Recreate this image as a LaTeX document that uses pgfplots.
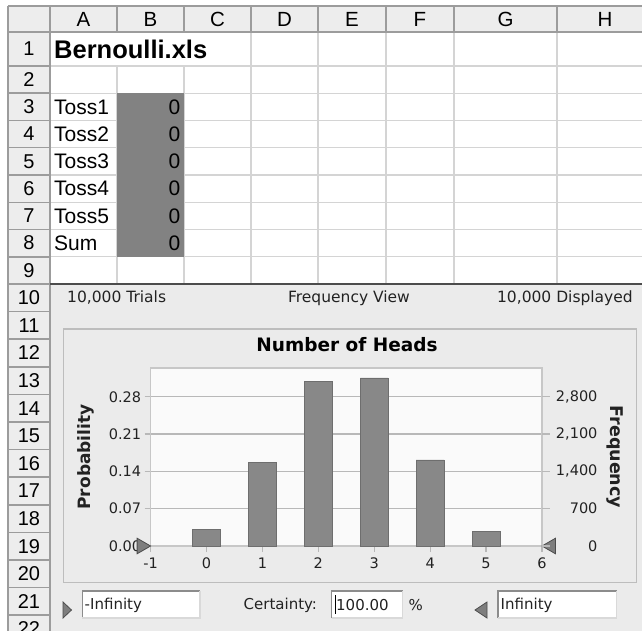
\documentclass[border=0pt]{standalone}
\usepackage{pgfplots}
\pgfplotsset{compat=1.18}
\usepackage{pgfplotstable}
\usepackage{fontspec}
\setmainfont{Liberation Sans}
\newfontfamily\dv{DejaVu Sans}
\definecolor{hdrbg}{HTML}{EDEDED}
\definecolor{hdrline}{HTML}{9C9C9C}
\definecolor{cellline}{HTML}{D4D4D4}
\definecolor{cellgray}{HTML}{828282}
\definecolor{chartbg}{HTML}{EBEBEB}
\definecolor{panelline}{HTML}{BDBDBD}
\definecolor{plotbg}{HTML}{FAFAFA}
\definecolor{gridc}{HTML}{B8B8B8}
\definecolor{barfill}{HTML}{888888}
\definecolor{baredge}{HTML}{6E6E6E}
\definecolor{triang}{HTML}{7E7E7E}
\definecolor{txt}{HTML}{222222}

\pgfplotstableread{
x freq prob
0 315 0.0315
1 1563 0.1563
2 3088 0.3088
3 3153 0.3153
4 1615 0.1615
5 266 0.0266
}\heads

\newcommand{\fs}[1]{\fontsize{#1}{#1}\selectfont}

\begin{document}
\begin{tikzpicture}
\begin{scope}[x=1pt,y=-1pt]
\path[use as bounding box, fill=white] (0,0) rectangle (642,631);
% header backgrounds
\fill[hdrbg] (8,6) rectangle (642,32);
\fill[hdrbg] (8,32) rectangle (50,631);
% cell gridlines rows 1-9
\foreach \y in {66,93.25,120.5,147.75,175,202.25,229.5,256.75}
  \draw[cellline, line width=1.2pt] (50,\y) -- (642,\y);
\foreach \x in {117,184}
  \draw[cellline, line width=1.2pt] (\x,66) -- (\x,284);
\foreach \x in {251,318,386,454,557}
  \draw[cellline, line width=1.2pt] (\x,32) -- (\x,284);
% gray cells B3:B8
\fill[cellgray] (117,93.25) rectangle (184,256.75);
% column header separators
\foreach \x in {50,117,184,251,318,386,454,557}
  \draw[hdrline, line width=1.2pt] (\x,6) -- (\x,32);
\draw[hdrline, line width=1.2pt] (8,6) -- (642,6);
\draw[hdrline, line width=1.5pt] (8,32) -- (642,32);
\draw[hdrline, line width=1.2pt] (8,6) -- (8,631);
\draw[hdrline, line width=1.5pt] (50,6) -- (50,631);
% row header separators
\foreach \y in {66,93.25,120.5,147.75,175,202.25,229.5,256.75,284,311.6,339.2,366.8,394.4,422,449.6,477.2,504.8,532.4,560,587.6,615.2}
  \draw[hdrline, line width=1.5pt] (8,\y) -- (50,\y);
% chart area
\fill[chartbg] (50.8,285) rectangle (642,631);
\draw[black!70, line width=2pt] (50,284) -- (642,284);
\draw[panelline, line width=1.5pt, fill=chartbg] (63.5,329) rectangle (636.5,582.5);
% column letters
\foreach \x/\l in {83.5/A,150.5/B,217.5/C,284.5/D,352/E,420/F,505.5/G,605/H}
  \node[font=\fs{20.5}, inner sep=0] at (\x,19.5) {\l};
% row numbers
\foreach \y/\l in {49/1,79.6/2,106.9/3,134.1/4,161.4/5,188.6/6,215.9/7,243.1/8,270.4/9,297.8/10,325.4/11,353/12,380.6/13,408.2/14,435.8/15,463.4/16,491/17,518.6/18,546.2/19,573.8/20,601.4/21,629/22}
  \node[font=\fs{20}, inner sep=0] at (29,\y) {\l};
% cell texts
\node[font=\bfseries\fs{25.5}, anchor=west, inner sep=0] at (54,49) {Bernoulli.xls};
\foreach \y/\l in {106.9/Toss1,134.1/Toss2,161.4/Toss3,188.6/Toss4,215.9/Toss5,243.1/Sum}
  \node[font=\fs{21}, anchor=west, inner sep=0] at (54,\y) {\l};
\foreach \y in {106.9,134.1,161.4,188.6,215.9,243.1}
  \node[font=\fs{21}, anchor=east, inner sep=0] at (180.5,\y) {0};
% chart header texts
\node[font=\dv\fs{15.5}, text=txt, anchor=west, inner sep=0] at (67,298) {10,000 Trials};
\node[font=\dv\fs{15.5}, text=txt, inner sep=0] at (349,298) {Frequency View};
\node[font=\dv\fs{15.5}, text=txt, anchor=east, inner sep=0] at (633,298) {10,000 Displayed};
% bottom controls
\draw[black!70, fill=triang, line width=0.8pt] (63,602) -- (71.5,610) -- (63,618) -- cycle;
\draw[black!70, fill=triang, line width=0.8pt] (487,602) -- (475,610) -- (487,618) -- cycle;
\foreach \a/\b in {82.3/200,331.7/402.7,498/616.7}{
  \fill[white] (\a,591) rectangle (\b,618);
  \draw[black!45, line width=1.3pt] (\a,618) -- (\a,591) -- (\b,591);
  \draw[black!15, line width=1.3pt] (\b,591) -- (\b,618) -- (\a,618);
}
\draw[black, line width=0.8pt] (335,595) -- (335,614);
\node[font=\dv\fs{15}, text=txt, anchor=west, inner sep=0] at (84.5,605) {-Infinity};
\node[font=\dv\fs{15}, text=txt, anchor=west, inner sep=0] at (243.5,605) {Certainty:};
\node[font=\dv\fs{15}, text=txt, anchor=west, inner sep=0] at (336,605) {100.00};
\node[font=\dv\fs{15}, text=txt, anchor=west, inner sep=0] at (408.5,605) {\%};
\node[font=\dv\fs{15}, text=txt, anchor=west, inner sep=0] at (500.5,605) {Infinity};
\end{scope}

\begin{axis}[
  at={(150.6pt,-546pt)}, anchor=south west,
  scale only axis, width=391.4pt, height=178pt,
  xmin=-1, xmax=6, ymin=0, ymax=0.334,
  axis background/.style={fill=plotbg},
  axis line style={draw=black!22, line width=1.2pt},
  xtick={-1,0,1,2,3,4,5,6},
  ytick={0,0.07,0.14,0.21,0.28},
  ytick pos=left, xtick pos=bottom,
  tick align=outside,
  major tick length=6pt,
  tick style={draw=gridc, line width=1.2pt},
  ymajorgrids, grid style={draw=gridc, line width=1.2pt},
  /pgf/number format/assume math mode=true,
  ticklabel style={font=\dv\fs{14.5}, text=txt},
  xticklabel style={yshift=-2.5pt},
  yticklabel style={/pgf/number format/.cd, fixed, fixed zerofill, precision=2},
  ylabel={Probability},
  ylabel style={font=\dv\bfseries\fs{17}, text=txt, at={(axis description cs:-0.165,0.5)}, anchor=center},
  title={Number of Heads},
  title style={font=\dv\bfseries\fs{18.5}, text=black, at={(axis description cs:0.502,1.095)}, anchor=center},
  clip=false,
]
\addplot[ybar, bar width=0.5, fill=barfill, draw=baredge, line width=0.8pt] table[x=x, y=prob] {\heads};
\addplot[only marks, mark=triangle*, mark size=9pt, mark options={xshift=-9pt, rotate=-90, fill=triang, draw=black!70, line width=0.8pt}] coordinates {(-1,0)};
\addplot[only marks, mark=triangle*, mark size=9pt, mark options={xshift=9pt, rotate=90, fill=triang, draw=black!70, line width=0.8pt}] coordinates {(6,0)};
\end{axis}

\begin{axis}[
  at={(150.6pt,-546pt)}, anchor=south west,
  scale only axis, width=391.4pt, height=178pt,
  xmin=-1, xmax=6, ymin=0, ymax=3340,
  hide x axis,
  axis line style={draw=none},
  ytick={0,700,1400,2100,2800},
  ytick pos=right, yticklabel pos=right,
  tick align=outside,
  major tick length=8pt,
  tick style={draw=gridc, line width=1.2pt},
  scaled y ticks=false,
  /pgf/number format/assume math mode=true,
  yticklabel style={font=\dv\fs{14.5}, text=txt, anchor=east, xshift=51pt, /pgf/number format/.cd, 1000 sep={,}},
  ylabel={Frequency},
  ylabel style={font=\dv\bfseries\fs{17.5}, text=txt, at={(axis description cs:1.187,0.5)}, anchor=center, rotate=180},
]
\addplot[draw=none] table[x=x, y=freq] {\heads};
\end{axis}
\end{tikzpicture}
\end{document}
